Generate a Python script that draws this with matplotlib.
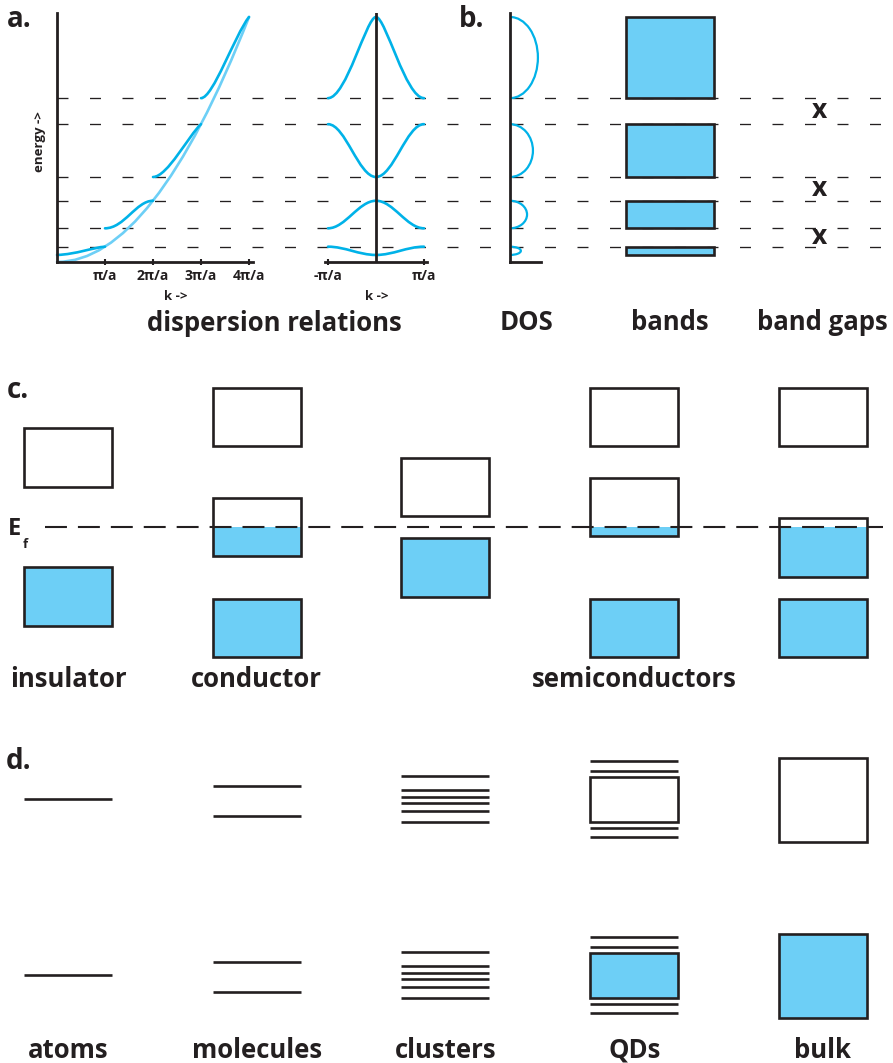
import matplotlib
matplotlib.use("Agg")
import matplotlib.pyplot as plt
from matplotlib.path import Path
from matplotlib.patches import PathPatch, Arc
from matplotlib.transforms import blended_transform_factory, offset_copy

W, H = 893, 1063
INK = "#231f20"
CYAN = "#00b2e8"
LIGHT = "#6dcff6"

plt.rcParams["font.family"] = ["Open Sans", "DejaVu Sans"]
plt.rcParams["font.weight"] = "bold"
plt.rcParams["lines.scale_dashes"] = False

# ------------------------------------------------------------
# Data
# ------------------------------------------------------------
# energies in units of (hbar*pi/a)^2 / 2m, k in units of pi/a
band_edges = [(0.46, 1.0), (2.2, 4.0), (5.55, 9.0), (10.7, 16.0)]
gap_lines = [1.0, 2.2, 4.0, 5.55, 9.0, 10.7]
gap_centres = [1.6, 4.78, 9.85]

# free electron parabola as a quadratic bezier (start, control, end)
free_electron = [(0, 0), (2, 0), (4, 16)]

# extended zone bands, cubic bezier control points
ext_bands = [
    [(0, 0.46), (0.4, 0.5), (0.75, 0.95), (1, 1.0)],
    [(1, 2.2), (1.4, 2.2), (1.65, 4.0), (2, 4.0)],
    [(2, 5.55), (2.3, 5.55), (2.75, 8.3), (3, 9.0)],
    [(3, 10.7), (3.25, 10.7), (3.7, 14.8), (4, 16.0)],
]

# reduced zone bands, two cubic segments each
red_bands = [
    [(-1, 1.0), (-0.64, 1.0), (-0.36, 0.46), (0, 0.46), (0.36, 0.46), (0.64, 1.0), (1, 1.0)],
    [(-1, 2.2), (-0.64, 2.2), (-0.36, 4.0), (0, 4.0), (0.36, 4.0), (0.64, 2.2), (1, 2.2)],
    [(-1, 9.0), (-0.64, 9.0), (-0.36, 5.55), (0, 5.55), (0.36, 5.55), (0.64, 9.0), (1, 9.0)],
    [(-1, 10.7), (-0.62, 10.7), (-0.2, 16.0), (0, 16.0), (0.2, 16.0), (0.62, 10.7), (1, 10.7)],
]

dos_peak = [0.35, 0.55, 0.74, 0.9]

ext_ticks = [1, 2, 3, 4]
ext_ticklabels = ["π/a", "2π/a", "3π/a", "4π/a"]
red_ticks = [-1, 1]
red_ticklabels = ["-π/a", "π/a"]

# band diagrams (c): energy relative to E_f
c_col = [0, 0, 1, 1, 1, 2, 2, 3, 3, 3, 4, 4, 4]
c_bottom = [4.0, -9.9, 8.1, -2.9, -13.0, 1.1, -7.0, 8.1, -0.9, -13.0, 8.1, -5.0, -13.0]
c_top = [9.9, -4.0, 13.9, 2.9, -7.2, 6.9, -1.1, 13.9, 4.9, -7.2, 13.9, 0.9, -7.2]
c_fill_to = [None, -4.0, None, 0.0, -7.2, None, -1.1, None, 0.0, -7.2, None, 0.0, -7.2]
c_labels = {0: "insulator", 1: "conductor", 3: "semiconductors"}

# energy levels (d)
d_names = ["atoms", "molecules", "clusters", "QDs", "bulk"]
d_lines = [
    [0.0],
    [1.3, -1.7],
    [2.3, 0.9, 0.2, -0.4, -1.2, -2.3],
    [3.8, 2.8, -2.9, -3.8],
    [],
]
d_boxes = [None, None, None, (-2.3, 2.2), (-4.3, 4.1)]
row_shift = [0.0, -17.6]
row_filled = [False, True]

# ------------------------------------------------------------
# Layout helpers
# ------------------------------------------------------------
fig = plt.figure(figsize=(W / 100, H / 100), dpi=100)


def frame(x0, y0, x1, y1):
    return [x0 / W, 1 - y1 / H, (x1 - x0) / W, (y1 - y0) / H]


def add_panel(x0, y0, x1, y1):
    ax = fig.add_axes(frame(x0, y0, x1, y1))
    ax.set_facecolor("none")
    for s in ax.spines.values():
        s.set_visible(False)
        s.set_color(INK)
        s.set_linewidth(2.0)
    ax.set_xticks([])
    ax.set_yticks([])
    return ax


def label(x, y, s, size, **kw):
    kw.setdefault("ha", "center")
    kw.setdefault("va", "baseline")
    fig.text(x / W, 1 - y / H, s, fontsize=size, color=INK, fontweight="bold", **kw)


def bezier(ax, pts, order, **kw):
    code = Path.CURVE3 if order == 2 else Path.CURVE4
    codes = [Path.MOVETO] + [code] * (len(pts) - 1)
    ax.add_patch(PathPatch(Path(pts, codes), fill=False, capstyle="round", clip_on=False, **kw))


E_TOP = 16.26

# ------------------------------------------------------------
# a. / b. shared gap lines
# ------------------------------------------------------------
ax_gap = add_panel(57, 13, 882, 262)
ax_gap.set_xlim(0, 1)
ax_gap.set_ylim(0, E_TOP)
for e in gap_lines:
    ax_gap.axhline(e, color=INK, lw=0.95, ls=(0, (7.9, 15.5)))

# extended zone
ax_ext = add_panel(57, 13, 253, 262)
ax_ext.set_xlim(0, 4.083)
ax_ext.set_ylim(0, E_TOP)
ax_ext.spines["left"].set_visible(True)
ax_ext.spines["bottom"].set_visible(True)
ax_ext.set_xticks(ext_ticks, ext_ticklabels)
ax_ext.tick_params(axis="x", direction="inout", length=4, width=1.5, color=INK,
                   pad=3, labelsize=10, labelcolor=INK)
bezier(ax_ext, free_electron, 2, color=LIGHT, lw=1.9)
for pts in ext_bands:
    bezier(ax_ext, pts, 3, color=CYAN, lw=1.9)

# reduced zone
ax_red = add_panel(325, 13, 427, 262)
ax_red.set_xlim(-1.0625, 1.0625)
ax_red.set_ylim(0, E_TOP)
ax_red.spines["bottom"].set_visible(True)
ax_red.axvline(0, color=INK, lw=2.0)
ax_red.set_xticks(red_ticks, red_ticklabels)
ax_red.tick_params(axis="x", direction="inout", length=4, width=1.5, color=INK,
                   pad=3, labelsize=10, labelcolor=INK)
for pts in red_bands:
    bezier(ax_red, pts, 3, color=CYAN, lw=1.9)

# density of states
ax_dos = add_panel(510, 13, 541, 262)
ax_dos.set_xlim(0, 1)
ax_dos.set_ylim(0, E_TOP)
ax_dos.spines["left"].set_visible(True)
ax_dos.spines["bottom"].set_visible(True)
for (lo, hi), peak in zip(band_edges, dos_peak):
    ax_dos.add_patch(Arc((0, (lo + hi) / 2), 2 * peak, hi - lo, theta1=-90, theta2=90,
                         color=CYAN, lw=1.6, clip_on=False))

# allowed bands
ax_bands = add_panel(626, 13, 714, 262)
ax_bands.set_xlim(0, 1)
ax_bands.set_ylim(0, E_TOP)
for lo, hi in band_edges:
    ax_bands.bar(0.5, hi - lo, bottom=lo, width=1, color=LIGHT, edgecolor=INK,
                 lw=1.9, clip_on=False)

# gap markers
mark = offset_copy(blended_transform_factory(fig.transFigure, ax_gap.transData),
                   fig=fig, y=-5, units="points")
for e in gap_centres:
    fig.text(819 / W, e, "x", transform=mark, ha="center", va="baseline",
             fontsize=19, fontweight="bold", color=INK)

label(19, 27, "a.", 20)
label(472, 27, "b.", 20)
label(176, 300, "k ->", 9.5)
label(377, 300, "k ->", 9.5)
label(40, 142, "energy ->", 9.5, rotation=90, va="center")
label(274, 331, "dispersion relations", 18.5)
label(527, 330, "DOS", 18.5)
label(670, 330, "bands", 18.5)
label(822, 330, "band gaps", 18.5)

# ------------------------------------------------------------
# c. insulator / conductor / semiconductors
# ------------------------------------------------------------
BOX_W = 0.466
ax_c = add_panel(0, 370, 893, 700)
ax_c.set_xlim(-0.36, 4.371)
ax_c.set_ylim(-17.3, 15.7)
for x, lo, hi, f in zip(c_col, c_bottom, c_top, c_fill_to):
    if f is not None:
        ax_c.bar(x, f - lo, bottom=lo, width=BOX_W, color=LIGHT, lw=0, zorder=2)
    ax_c.bar(x, hi - lo, bottom=lo, width=BOX_W, facecolor="none", edgecolor=INK,
             lw=1.9, zorder=3, clip_on=False)
ax_c.hlines(0, -0.12, 4.32, color=INK, lw=1.5, ls=(0, (15.8, 7.9)), zorder=4)

label(18, 398, "c.", 20)
label(15, 535, "E", 17)
label(25, 548, "f", 9.5)
for i, name in c_labels.items():
    label(68 + 188.75 * i, 687, name, 18.5)

# ------------------------------------------------------------
# d. atoms -> bulk
# ------------------------------------------------------------
ax_d = add_panel(0, 740, 893, 1030)
ax_d.set_xlim(-0.36, 4.371)
ax_d.set_ylim(-23.1, 5.9)
for shift, filled in zip(row_shift, row_filled):
    for i, levels in enumerate(d_lines):
        ys = [lv + shift for lv in levels]
        if ys:
            ax_d.hlines(ys, i - BOX_W / 2, i + BOX_W / 2, color=INK, lw=1.9)
        box = d_boxes[i]
        if box is not None:
            lo, hi = box
            ax_d.bar(i, hi - lo, bottom=lo + shift, width=BOX_W,
                     facecolor=LIGHT if filled else "none", edgecolor=INK,
                     lw=1.9, clip_on=False)

label(19, 769, "d.", 20)
for i, name in enumerate(d_names):
    label(68 + 188.75 * i, 1058, name, 18.5)

fig.savefig("out.png", dpi=100)
